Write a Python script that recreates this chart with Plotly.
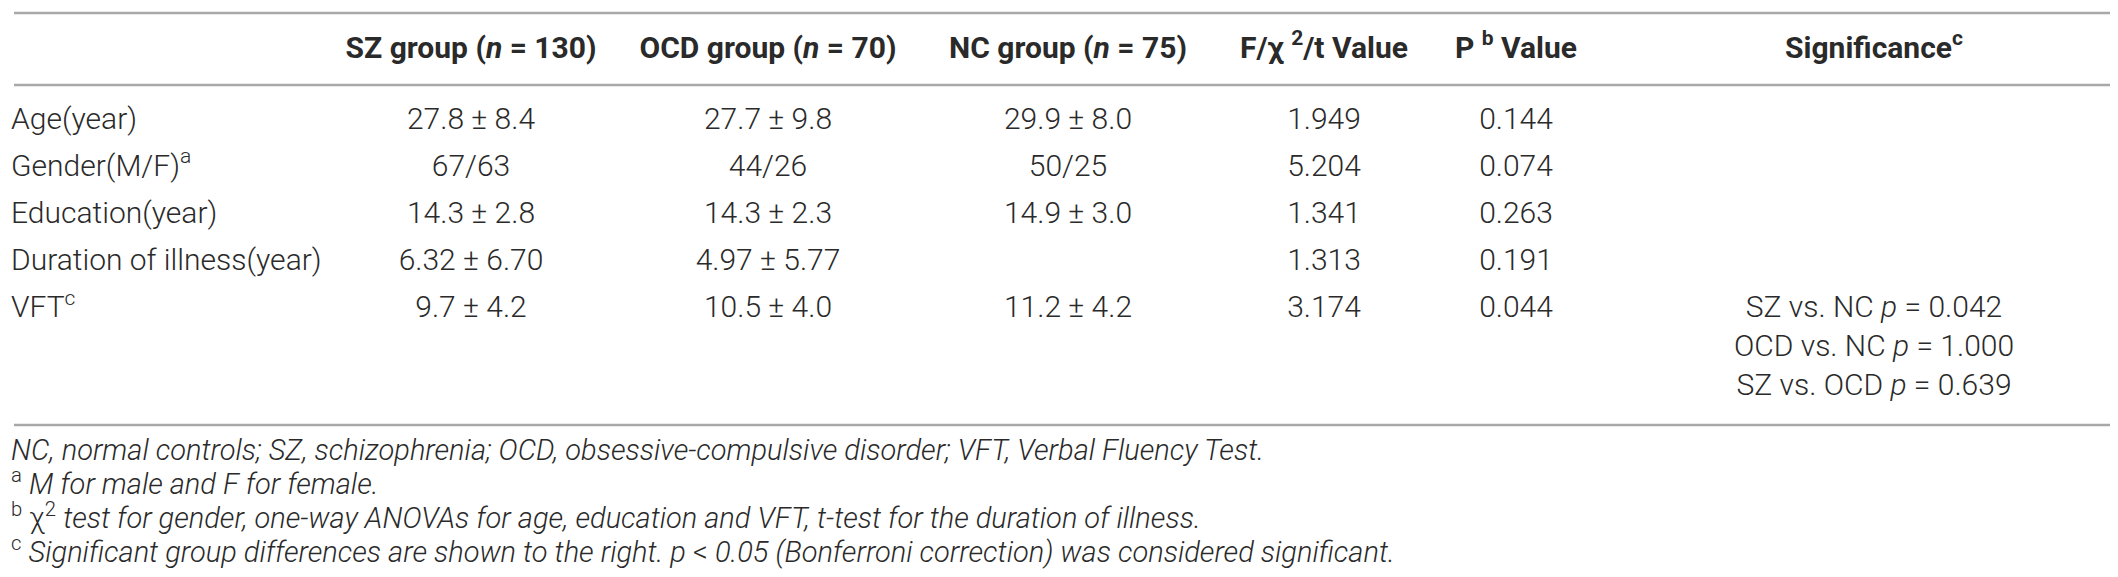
import plotly.graph_objects as go

W, H = 2118, 577

# table content
row_labels = ["Age(year)", "Gender(M/F)<sup>a</sup>", "Education(year)",
              "Duration of illness(year)", "VFT<sup>c</sup>"]
col_headers = ["SZ group (<i>n</i> = 130)", "OCD group (<i>n</i> = 70)", "NC group (<i>n</i> = 75)",
               "F/χ <sup>2</sup>/t Value", "P <sup>b</sup> Value", "Significance<sup>c</sup>"]
sz_vals = ["27.8 ± 8.4", "67/63", "14.3 ± 2.8", "6.32 ± 6.70", "9.7 ± 4.2"]
ocd_vals = ["27.7 ± 9.8", "44/26", "14.3 ± 2.3", "4.97 ± 5.77", "10.5 ± 4.0"]
nc_vals = ["29.9 ± 8.0", "50/25", "14.9 ± 3.0", "", "11.2 ± 4.2"]
stat_vals = ["1.949", "5.204", "1.341", "1.313", "3.174"]
p_vals = ["0.144", "0.074", "0.263", "0.191", "0.044"]
sig_lines = ["SZ vs. NC <i>p</i> = 0.042", "OCD vs. NC <i>p</i> = 1.000", "SZ vs. OCD <i>p</i> = 0.639"]
footnotes = [
    "<i>NC, normal controls; SZ, schizophrenia; OCD, obsessive-compulsive disorder; VFT, Verbal Fluency Test.</i>",
    "<sup>a</sup> <i>M for male and F for female.</i>",
    "<sup>b</sup> χ<sup>2</sup> <i>test for gender, one-way ANOVAs for age, education and VFT, t-test for the duration of illness.</i>",
    "<sup>c</sup> <i>Significant group differences are shown to the right. p</i> < <i>0.05 (Bonferroni correction) was considered significant.</i>",
]

# layout (pixel units on the axes)
col_x = [463, 760, 1060, 1316, 1508, 1866]
header_y = 42
row_y0, row_step = 113, 47.2
sig_step = 39
foot_y0, foot_step = 445, 34
rules_y = [5, 77, 417]

text_color = "#2a2a2a"
body_font = dict(family="Roboto", size=30, color=text_color, weight=300)

fig = go.Figure()

row_y = [row_y0 + i * row_step for i in range(len(row_labels))]

fig.add_trace(go.Scatter(x=[3] * len(row_labels), y=row_y, text=row_labels, mode="text",
                         textposition="middle right", textfont=body_font, hoverinfo="skip"))

for cx, vals in zip(col_x[:5], [sz_vals, ocd_vals, nc_vals, stat_vals, p_vals]):
    fig.add_trace(go.Scatter(x=[cx] * len(vals), y=row_y, text=vals, mode="text",
                             textposition="middle center", textfont=body_font, hoverinfo="skip"))

sig_y = [row_y[-1] + i * sig_step for i in range(len(sig_lines))]
fig.add_trace(go.Scatter(x=[col_x[5]] * len(sig_lines), y=sig_y, text=sig_lines, mode="text",
                         textposition="middle center", textfont=body_font, hoverinfo="skip"))

# header
fig.add_trace(go.Scatter(x=col_x, y=[header_y] * len(col_headers), text=col_headers, mode="text",
                         textposition="middle center",
                         textfont=dict(family="Roboto", size=30, color=text_color, weight="bold"),
                         hoverinfo="skip"))

# footnotes
foot_y = [foot_y0 + i * foot_step for i in range(len(footnotes))]
fig.add_trace(go.Scatter(x=[3] * len(footnotes), y=foot_y, text=footnotes, mode="text",
                         textposition="middle right",
                         textfont=dict(family="Roboto", size=29, color=text_color, weight=300),
                         hoverinfo="skip"))

for ry in rules_y:
    fig.add_shape(type="line", x0=6, x1=2110, y0=ry, y1=ry, xref="x", yref="y",
                  line=dict(color="#a8a8a8", width=2.5))

fig.update_layout(
    width=W, height=H,
    margin=dict(l=0, r=0, t=0, b=0),
    paper_bgcolor="white", plot_bgcolor="white",
    showlegend=False,
    xaxis=dict(range=[0, W], visible=False, fixedrange=True),
    yaxis=dict(range=[H, 0], visible=False, fixedrange=True),
)

fig.write_html("out.html")
